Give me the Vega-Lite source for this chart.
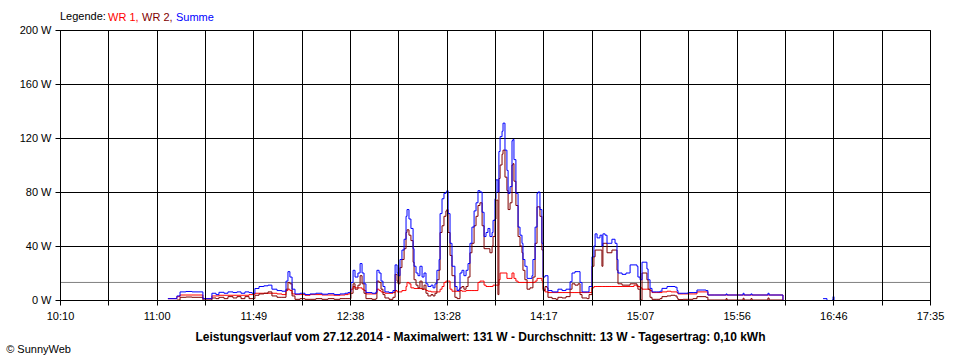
{
  "$schema": "https://vega.github.io/schema/vega-lite/v6.json",
  "width": 870,
  "height": 270,
  "autosize": {"type": "none"},
  "padding": {"left": 60, "top": 30, "right": 30, "bottom": 60},
  "background": "white",
  "config": {
    "font": "Liberation Sans",
    "view": {"stroke": "black"},
    "axis": {"labelFontSize": 11, "labelColor": "black", "tickColor": "black", "domainColor": "black", "gridColor": "black", "gridOpacity": 1, "tickSize": 5}
  },
  "title": {"text": "© SunnyWeb", "orient": "bottom", "anchor": "start", "frame": "bounds", "fontSize": 11, "fontWeight": "normal", "color": "black", "dx": -13, "offset": 2},
  "data": {"values": [
    {"t": 665.8, "wr1": 1, "wr2": null, "summe": 1},
    {"t": 670.4, "wr1": 2.5, "wr2": 0, "summe": 3},
    {"t": 672.0, "wr1": 3.7, "wr2": 2, "summe": 6},
    {"t": 675.0, "wr1": 3.7, "wr2": 2.2, "summe": 6.3},
    {"t": 678.1, "wr1": 3.7, "wr2": 2, "summe": 6},
    {"t": 681.2, "wr1": 3.7, "wr2": 2, "summe": 6},
    {"t": 683.7, "wr1": 1, "wr2": 0, "summe": 1},
    {"t": 685.3, "wr1": 1, "wr2": 0, "summe": 1},
    {"t": 688.3, "wr1": 3, "wr2": 1.5, "summe": 5},
    {"t": 690.4, "wr1": 3, "wr2": 1, "summe": 4},
    {"t": 691.9, "wr1": 3.5, "wr2": 2, "summe": 5.7},
    {"t": 694.5, "wr1": 3.5, "wr2": 1, "summe": 5},
    {"t": 696.5, "wr1": 3.5, "wr2": 2.5, "summe": 6},
    {"t": 699.1, "wr1": 3.5, "wr2": 1.5, "summe": 5.5},
    {"t": 701.1, "wr1": 3.5, "wr2": 2.5, "summe": 6},
    {"t": 703.2, "wr1": 3.5, "wr2": 1, "summe": 5},
    {"t": 705.2, "wr1": 3.5, "wr2": 2.5, "summe": 6},
    {"t": 707.3, "wr1": 4, "wr2": 1, "summe": 5.5},
    {"t": 708.8, "wr1": 4, "wr2": 1, "summe": 5},
    {"t": 710.3, "wr1": 5, "wr2": 3.5, "summe": 8.5},
    {"t": 712.4, "wr1": 5, "wr2": 4.5, "summe": 10},
    {"t": 714.9, "wr1": 5, "wr2": 5, "summe": 10.5},
    {"t": 717.0, "wr1": 5, "wr2": 6, "summe": 11},
    {"t": 719.0, "wr1": 5, "wr2": 3, "summe": 8},
    {"t": 721.6, "wr1": 4.5, "wr2": 2, "summe": 7},
    {"t": 724.1, "wr1": 4, "wr2": 2, "summe": 6.5},
    {"t": 726.2, "wr1": 7, "wr2": 8, "summe": 14},
    {"t": 727.2, "wr1": 8, "wr2": 13, "summe": 21},
    {"t": 728.2, "wr1": 7, "wr2": 12, "summe": 17},
    {"t": 729.3, "wr1": 4.5, "wr2": 3, "summe": 8},
    {"t": 730.8, "wr1": 4, "wr2": 0.5, "summe": 4.5},
    {"t": 733.4, "wr1": 4, "wr2": 1, "summe": 5},
    {"t": 735.9, "wr1": 3.5, "wr2": 0.5, "summe": 4},
    {"t": 738.5, "wr1": 4, "wr2": 0.5, "summe": 4.5},
    {"t": 741.5, "wr1": 4, "wr2": 1, "summe": 5},
    {"t": 744.6, "wr1": 3.7, "wr2": 0.5, "summe": 4.3},
    {"t": 747.7, "wr1": 3.7, "wr2": 1, "summe": 4.7},
    {"t": 750.8, "wr1": 3.5, "wr2": 0.5, "summe": 4},
    {"t": 753.8, "wr1": 3.7, "wr2": 1, "summe": 4.5},
    {"t": 756.4, "wr1": 4, "wr2": 1, "summe": 5},
    {"t": 757.9, "wr1": 4.5, "wr2": 1, "summe": 5.5},
    {"t": 758.9, "wr1": 5, "wr2": 1, "summe": 6},
    {"t": 759.4, "wr1": 8, "wr2": 5, "summe": 13},
    {"t": 760.5, "wr1": 10, "wr2": 12, "summe": 22},
    {"t": 761.5, "wr1": 9, "wr2": 8, "summe": 17},
    {"t": 763.0, "wr1": 9, "wr2": 11, "summe": 20},
    {"t": 764.1, "wr1": 9, "wr2": 18, "summe": 27},
    {"t": 765.1, "wr1": 8, "wr2": 12, "summe": 20},
    {"t": 766.1, "wr1": 7, "wr2": 5, "summe": 12},
    {"t": 767.1, "wr1": 4.5, "wr2": 1, "summe": 5.5},
    {"t": 770.2, "wr1": 4.5, "wr2": 0.5, "summe": 5},
    {"t": 772.2, "wr1": 5, "wr2": 1, "summe": 6},
    {"t": 772.7, "wr1": 8, "wr2": 14, "summe": 22},
    {"t": 773.8, "wr1": 7, "wr2": 13, "summe": 20},
    {"t": 774.8, "wr1": 6, "wr2": 8, "summe": 14},
    {"t": 775.8, "wr1": 5.5, "wr2": 4, "summe": 10},
    {"t": 776.8, "wr1": 5, "wr2": 1.5, "summe": 6},
    {"t": 778.9, "wr1": 5, "wr2": 0.5, "summe": 5.5},
    {"t": 780.9, "wr1": 5.5, "wr2": 2, "summe": 7},
    {"t": 782.0, "wr1": 7, "wr2": 19, "summe": 26},
    {"t": 783.0, "wr1": 6, "wr2": 14, "summe": 20},
    {"t": 783.5, "wr1": 6, "wr2": 12, "summe": 18},
    {"t": 784.5, "wr1": 6, "wr2": 24, "summe": 30},
    {"t": 785.5, "wr1": 7, "wr2": 30, "summe": 37},
    {"t": 786.6, "wr1": 7, "wr2": 38, "summe": 45},
    {"t": 787.6, "wr1": 10, "wr2": 50, "summe": 62},
    {"t": 788.1, "wr1": 13, "wr2": 52, "summe": 67},
    {"t": 789.1, "wr1": 12, "wr2": 48, "summe": 60},
    {"t": 790.1, "wr1": 9, "wr2": 44, "summe": 53},
    {"t": 791.2, "wr1": 9, "wr2": 28, "summe": 38},
    {"t": 791.7, "wr1": 8.5, "wr2": 15, "summe": 25},
    {"t": 792.7, "wr1": 8.5, "wr2": 11, "summe": 20},
    {"t": 793.7, "wr1": 8.5, "wr2": 9, "summe": 18},
    {"t": 794.7, "wr1": 8.5, "wr2": 14, "summe": 25},
    {"t": 795.8, "wr1": 8, "wr2": 8, "summe": 17},
    {"t": 796.8, "wr1": 8, "wr2": 11, "summe": 20},
    {"t": 797.8, "wr1": 7, "wr2": 5, "summe": 12},
    {"t": 798.8, "wr1": 6.5, "wr2": 3, "summe": 10},
    {"t": 800.4, "wr1": 6, "wr2": 4, "summe": 11},
    {"t": 801.4, "wr1": 6, "wr2": 3, "summe": 9},
    {"t": 802.4, "wr1": 6, "wr2": 5, "summe": 12},
    {"t": 803.4, "wr1": 6, "wr2": 15, "summe": 22},
    {"t": 804.5, "wr1": 6, "wr2": 22, "summe": 30},
    {"t": 805.0, "wr1": 8, "wr2": 50, "summe": 64},
    {"t": 806.0, "wr1": 10, "wr2": 55, "summe": 75},
    {"t": 807.0, "wr1": 13, "wr2": 62, "summe": 79},
    {"t": 808.0, "wr1": 14, "wr2": 66, "summe": 80},
    {"t": 808.5, "wr1": 14, "wr2": 67, "summe": 81},
    {"t": 809.1, "wr1": 14, "wr2": 50, "summe": 64},
    {"t": 810.1, "wr1": 8, "wr2": 33, "summe": 42},
    {"t": 811.1, "wr1": 6.5, "wr2": 18, "summe": 25},
    {"t": 812.6, "wr1": 6.5, "wr2": 2, "summe": 10},
    {"t": 813.7, "wr1": 6.5, "wr2": 1, "summe": 7},
    {"t": 814.7, "wr1": 6.5, "wr2": 1, "summe": 8},
    {"t": 815.2, "wr1": 7, "wr2": 9, "summe": 20},
    {"t": 816.2, "wr1": 6.5, "wr2": 10, "summe": 22},
    {"t": 817.2, "wr1": 6.5, "wr2": 8, "summe": 18},
    {"t": 818.3, "wr1": 7, "wr2": 10, "summe": 22},
    {"t": 819.3, "wr1": 7, "wr2": 17, "summe": 27},
    {"t": 820.3, "wr1": 7, "wr2": 35, "summe": 42},
    {"t": 821.3, "wr1": 7, "wr2": 42, "summe": 54},
    {"t": 822.4, "wr1": 7, "wr2": 55, "summe": 66},
    {"t": 823.4, "wr1": 7, "wr2": 62, "summe": 72},
    {"t": 824.4, "wr1": 13, "wr2": 70, "summe": 81},
    {"t": 825.4, "wr1": 14, "wr2": 72, "summe": 80},
    {"t": 826.5, "wr1": 14, "wr2": 55, "summe": 65},
    {"t": 827.5, "wr1": 11, "wr2": 38, "summe": 47},
    {"t": 828.5, "wr1": 10, "wr2": 38, "summe": 50},
    {"t": 829.5, "wr1": 10, "wr2": 38, "summe": 53},
    {"t": 830.5, "wr1": 10, "wr2": 35, "summe": 47},
    {"t": 831.6, "wr1": 10, "wr2": 40, "summe": 50},
    {"t": 832.1, "wr1": 11, "wr2": 47, "summe": 59},
    {"t": 833.1, "wr1": 11, "wr2": 60, "summe": 75},
    {"t": 833.6, "wr1": 11, "wr2": 74, "summe": 89},
    {"t": 834.6, "wr1": 11, "wr2": 4, "summe": 80},
    {"t": 835.1, "wr1": 15, "wr2": 90, "summe": 110},
    {"t": 835.7, "wr1": 20, "wr2": 100, "summe": 121},
    {"t": 836.7, "wr1": 20, "wr2": 108, "summe": 125},
    {"t": 837.2, "wr1": 20, "wr2": 111, "summe": 131},
    {"t": 838.2, "wr1": 20, "wr2": 91, "summe": 111},
    {"t": 839.2, "wr1": 16, "wr2": 81, "summe": 96},
    {"t": 839.8, "wr1": 16, "wr2": 67, "summe": 79},
    {"t": 840.8, "wr1": 16, "wr2": 72, "summe": 84},
    {"t": 841.8, "wr1": 20, "wr2": 100, "summe": 118},
    {"t": 842.3, "wr1": 20, "wr2": 101, "summe": 119},
    {"t": 842.8, "wr1": 16, "wr2": 88, "summe": 104},
    {"t": 843.8, "wr1": 14, "wr2": 70, "summe": 79},
    {"t": 844.9, "wr1": 13, "wr2": 47, "summe": 54},
    {"t": 845.9, "wr1": 13, "wr2": 40, "summe": 48},
    {"t": 846.9, "wr1": 13, "wr2": 35, "summe": 42},
    {"t": 847.4, "wr1": 13, "wr2": 22, "summe": 30},
    {"t": 848.4, "wr1": 13, "wr2": 15, "summe": 25},
    {"t": 849.5, "wr1": 13, "wr2": 8, "summe": 16},
    {"t": 851.0, "wr1": 13, "wr2": 9, "summe": 16},
    {"t": 852.0, "wr1": 13, "wr2": 9, "summe": 18},
    {"t": 852.5, "wr1": 13, "wr2": 17, "summe": 30},
    {"t": 853.6, "wr1": 14, "wr2": 42, "summe": 54},
    {"t": 854.6, "wr1": 16, "wr2": 69, "summe": 79},
    {"t": 855.1, "wr1": 16, "wr2": 69, "summe": 80},
    {"t": 856.1, "wr1": 16, "wr2": 62, "summe": 67},
    {"t": 857.1, "wr1": 14, "wr2": 37, "summe": 42},
    {"t": 857.7, "wr1": 8, "wr2": 7, "summe": 17},
    {"t": 858.7, "wr1": 6, "wr2": 10, "summe": 18},
    {"t": 859.7, "wr1": 6, "wr2": 9, "summe": 18},
    {"t": 860.2, "wr1": 5.5, "wr2": 2, "summe": 7},
    {"t": 862.3, "wr1": 5.5, "wr2": 1, "summe": 6},
    {"t": 864.3, "wr1": 5.5, "wr2": 0.5, "summe": 6},
    {"t": 865.3, "wr1": 5.5, "wr2": 2, "summe": 8},
    {"t": 867.4, "wr1": 5.5, "wr2": 1.5, "summe": 7},
    {"t": 869.4, "wr1": 5.5, "wr2": 2.5, "summe": 8},
    {"t": 871.5, "wr1": 5.5, "wr2": 8, "summe": 13.5},
    {"t": 872.5, "wr1": 5.5, "wr2": 12, "summe": 20},
    {"t": 874.0, "wr1": 5.5, "wr2": 11, "summe": 21},
    {"t": 875.6, "wr1": 5.5, "wr2": 12, "summe": 21},
    {"t": 876.6, "wr1": 5.5, "wr2": 4, "summe": 13},
    {"t": 877.6, "wr1": 5.5, "wr2": 1.5, "summe": 6},
    {"t": 880.2, "wr1": 5.5, "wr2": 1, "summe": 6},
    {"t": 881.2, "wr1": 5.5, "wr2": 4, "summe": 10},
    {"t": 882.7, "wr1": 9, "wr2": 25, "summe": 32},
    {"t": 883.7, "wr1": 10, "wr2": 32, "summe": 40},
    {"t": 884.3, "wr1": 10, "wr2": 37, "summe": 49},
    {"t": 885.3, "wr1": 10, "wr2": 37, "summe": 46},
    {"t": 886.8, "wr1": 10, "wr2": 37, "summe": 48},
    {"t": 887.8, "wr1": 10, "wr2": 25, "summe": 40},
    {"t": 888.3, "wr1": 10, "wr2": 42, "summe": 49},
    {"t": 889.4, "wr1": 10, "wr2": 42, "summe": 48},
    {"t": 890.4, "wr1": 10, "wr2": 35, "summe": 42},
    {"t": 891.9, "wr1": 10, "wr2": 35, "summe": 42},
    {"t": 892.9, "wr1": 10, "wr2": 37, "summe": 45},
    {"t": 894.5, "wr1": 10, "wr2": 37, "summe": 42},
    {"t": 895.5, "wr1": 10, "wr2": 22, "summe": 30},
    {"t": 896.0, "wr1": 10, "wr2": 12, "summe": 20},
    {"t": 898.1, "wr1": 10, "wr2": 11, "summe": 19},
    {"t": 900.1, "wr1": 10, "wr2": 11, "summe": 20},
    {"t": 902.2, "wr1": 10, "wr2": 12, "summe": 26},
    {"t": 904.2, "wr1": 11, "wr2": 12, "summe": 26},
    {"t": 905.7, "wr1": 10, "wr2": 11, "summe": 25},
    {"t": 906.2, "wr1": 10, "wr2": 8, "summe": 17},
    {"t": 907.3, "wr1": 9, "wr2": 0, "summe": 15},
    {"t": 908.3, "wr1": 8, "wr2": 20, "summe": 28},
    {"t": 909.8, "wr1": 8, "wr2": 20, "summe": 28},
    {"t": 910.8, "wr1": 8, "wr2": 15, "summe": 23},
    {"t": 911.4, "wr1": 8, "wr2": 8, "summe": 15},
    {"t": 912.4, "wr1": 7, "wr2": 2, "summe": 8.6},
    {"t": 913.4, "wr1": 5.5, "wr2": 0.5, "summe": 6},
    {"t": 915.5, "wr1": 5.5, "wr2": 0.5, "summe": 6},
    {"t": 917.5, "wr1": 5.5, "wr2": 1, "summe": 6.5},
    {"t": 918.5, "wr1": 6, "wr2": 2.5, "summe": 8.6},
    {"t": 921.1, "wr1": 6.5, "wr2": 3, "summe": 10},
    {"t": 923.1, "wr1": 6, "wr2": 3.5, "summe": 10},
    {"t": 925.2, "wr1": 6, "wr2": 3, "summe": 9.5},
    {"t": 926.2, "wr1": 5.5, "wr2": 1.5, "summe": 7},
    {"t": 926.7, "wr1": 4.5, "wr2": 0.3, "summe": 5},
    {"t": 929.3, "wr1": 4.5, "wr2": 0.5, "summe": 5},
    {"t": 931.8, "wr1": 4.5, "wr2": 0.5, "summe": 5.5},
    {"t": 934.4, "wr1": 4.5, "wr2": 1, "summe": 5.5},
    {"t": 936.4, "wr1": 6, "wr2": 2.5, "summe": 7.4},
    {"t": 939.0, "wr1": 6, "wr2": 2.5, "summe": 7.4},
    {"t": 941.0, "wr1": 6, "wr2": 2, "summe": 7},
    {"t": 942.0, "wr1": 3.7, "wr2": 0, "summe": 3.7},
    {"t": 945.6, "wr1": 3.7, "wr2": 0, "summe": 3.7},
    {"t": 951.3, "wr1": 3.7, "wr2": 1, "summe": 4.5},
    {"t": 951.8, "wr1": 3.7, "wr2": 0, "summe": 3.7},
    {"t": 958.4, "wr1": 3.7, "wr2": 0, "summe": 3.7},
    {"t": 960.0, "wr1": 3.7, "wr2": 1.3, "summe": 5},
    {"t": 960.5, "wr1": 3.7, "wr2": 0, "summe": 3.7},
    {"t": 964.0, "wr1": 3.7, "wr2": 1, "summe": 4.5},
    {"t": 964.6, "wr1": 3.7, "wr2": 0, "summe": 3.7},
    {"t": 972.7, "wr1": 3.7, "wr2": 1.5, "summe": 5},
    {"t": 973.3, "wr1": 3.7, "wr2": 0, "summe": 3.7},
    {"t": 980.4, "wr1": 0, "wr2": 0, "summe": 0},
    {"t": 989.1, "wr1": null, "wr2": null, "summe": null},
    {"t": 1000.9, "wr1": null, "wr2": null, "summe": 1},
    {"t": 1002.4, "wr1": null, "wr2": null, "summe": 1},
    {"t": 1002.9, "wr1": null, "wr2": null, "summe": 0},
    {"t": 1004.0, "wr1": null, "wr2": null, "summe": null},
    {"t": 1005.5, "wr1": null, "wr2": null, "summe": 0},
    {"t": 1006.0, "wr1": null, "wr2": null, "summe": 2.5},
    {"t": 1006.5, "wr1": null, "wr2": null, "summe": 0}
  ]},
  "layer": [
    {
      "data": {"values": [{"durchschnitt": 13}]},
      "mark": {"type": "rule", "color": "#808080", "strokeWidth": 1},
      "encoding": {"y": {"field": "durchschnitt", "type": "quantitative"}}
    },
    {
      "mark": {"type": "line", "interpolate": "step-after", "strokeWidth": 1},
      "encoding": {
        "x": {
          "field": "t", "type": "quantitative",
          "scale": {"domain": [610.6, 1055.6], "nice": false, "zero": false},
          "axis": {
            "values": [610.6, 635.322, 660.044, 684.767, 709.489, 734.211, 758.933, 783.656, 808.378, 833.1, 857.822, 882.544, 907.267, 931.989, 956.711, 981.433, 1006.156, 1030.878, 1055.6],
            "labelExpr": "round((datum.value - 610.6) / 24.7222) % 2 == 0 ? floor(datum.value / 60) + ':' + (floor(datum.value % 60) < 10 ? '0' : '') + floor(datum.value % 60) : ''",
            "labelFlush": false,
            "labelOverlap": false,
            "labelPadding": 5,
            "grid": true,
            "zindex": 1,
            "title": "Leistungsverlauf vom 27.12.2014 - Maximalwert: 131 W - Durchschnitt: 13 W - Tagesertrag: 0,10 kWh",
            "titleFontSize": 12,
            "titleFontWeight": "bold",
            "titleColor": "black",
            "titleX": 420,
            "titleY": 40,
            "titleBaseline": "alphabetic"
          }
        },
        "y": {
          "field": "wr1", "type": "quantitative",
          "scale": {"domain": [0, 200], "nice": false},
          "axis": {"values": [0, 40, 80, 120, 160, 200], "labelExpr": "datum.value + ' W'", "grid": true, "labelPadding": 4, "title": null}
        },
        "color": {
          "datum": "WR 1", "type": "nominal",
          "scale": {"domain": ["WR 1", "WR 2", "Summe"], "range": ["#ff0000", "#800000", "#0000ff"]},
          "legend": {
            "orient": "none", "legendX": 0, "legendY": -18, "direction": "horizontal",
            "title": "Legende:", "titleOrient": "left", "titleFontSize": 11, "titleFontWeight": "normal", "titleColor": "black", "titlePadding": 3,
            "labelFontSize": 11, "labelOffset": -12, "symbolSize": 0, "symbolOpacity": 0, "symbolStrokeWidth": 0, "columnPadding": 3,
            "labelExpr": "datum.label == 'Summe' ? datum.label : datum.label + ','",
            "encode": {"labels": {"update": {"fill": {"scale": "color", "field": "value"}}}}
          }
        }
      }
    },
    {
      "mark": {"type": "line", "interpolate": "step-after", "strokeWidth": 1},
      "encoding": {
        "x": {"field": "t", "type": "quantitative"},
        "y": {"field": "wr2", "type": "quantitative"},
        "color": {"datum": "WR 2", "type": "nominal"}
      }
    },
    {
      "mark": {"type": "line", "interpolate": "step-after", "strokeWidth": 1},
      "encoding": {
        "x": {"field": "t", "type": "quantitative"},
        "y": {"field": "summe", "type": "quantitative"},
        "color": {"datum": "Summe", "type": "nominal"}
      }
    }
  ]
}
